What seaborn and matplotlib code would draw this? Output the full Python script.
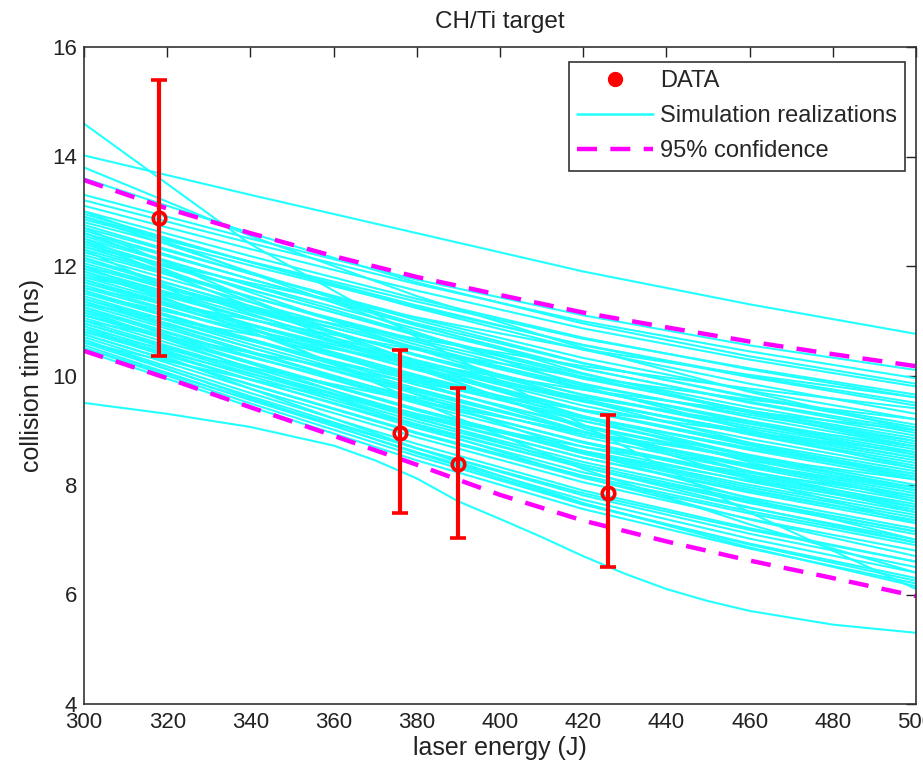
import numpy as np
import pandas as pd
import matplotlib
matplotlib.use("Agg")
import matplotlib.pyplot as plt
import seaborn as sns
from matplotlib.lines import Line2D

# ---------------- data ----------------
energy_grid = [300, 340, 380, 420, 460, 500]

realizations = [
    [14.02, 13.30, 12.60, 11.90, 11.30, 10.76],
    [14.60, 12.40, 10.70, 9.10, 7.50, 6.10],
    [13.80, 12.55, 11.45, 10.50, 9.70, 9.00],
    [13.60, 12.60, 11.70, 10.95, 10.35, 9.85],
    [13.30, 12.50, 11.75, 11.10, 10.55, 10.10],
    [13.20, 12.42, 11.67, 10.99, 10.44, 9.95],
    [13.10, 12.31, 11.55, 10.86, 10.29, 9.80],
    [13.00, 12.18, 11.40, 10.69, 10.11, 9.60],
    [12.90, 12.07, 11.28, 10.55, 9.97, 9.45],
    [12.95, 12.07, 11.23, 10.47, 9.85, 9.30],
    [12.80, 12.01, 11.25, 10.56, 9.99, 9.50],
    [12.70, 11.86, 11.05, 10.32, 9.72, 9.20],
    [12.60, 11.76, 10.95, 10.22, 9.62, 9.10],
    [12.65, 11.76, 10.91, 10.13, 9.50, 8.95],
    [12.50, 11.66, 10.85, 10.12, 9.52, 9.00],
    [12.45, 11.57, 10.73, 9.97, 9.35, 8.80],
    [12.40, 11.56, 10.75, 10.02, 9.42, 8.90],
    [12.30, 11.44, 10.61, 9.85, 9.24, 8.70],
    [12.25, 11.43, 10.65, 9.94, 9.36, 8.85],
    [12.20, 11.34, 10.51, 9.75, 9.14, 8.60],
    [12.10, 11.27, 10.48, 9.75, 9.17, 8.65],
    [12.05, 11.20, 10.38, 9.64, 9.03, 8.50],
    [12.00, 11.17, 10.38, 9.65, 9.07, 8.55],
    [11.95, 11.10, 10.28, 9.54, 8.93, 8.40],
    [11.90, 11.04, 10.21, 9.45, 8.84, 8.30],
    [11.85, 11.03, 10.25, 9.54, 8.96, 8.45],
    [11.80, 10.94, 10.11, 9.35, 8.74, 8.20],
    [11.75, 10.91, 10.10, 9.37, 8.77, 8.25],
    [11.70, 10.84, 10.01, 9.25, 8.64, 8.10],
    [11.65, 10.77, 9.93, 9.17, 8.55, 8.00],
    [11.60, 10.77, 9.98, 9.25, 8.67, 8.15],
    [11.55, 10.67, 9.83, 9.07, 8.45, 7.90],
    [11.50, 10.65, 9.83, 9.09, 8.48, 7.95],
    [11.45, 10.57, 9.73, 8.97, 8.35, 7.80],
    [11.40, 10.51, 9.66, 8.88, 8.25, 7.70],
    [11.35, 10.51, 9.70, 8.97, 8.37, 7.85],
    [11.30, 10.41, 9.56, 8.78, 8.15, 7.60],
    [11.25, 10.35, 9.49, 8.70, 8.06, 7.50],
    [11.20, 10.35, 9.53, 8.79, 8.18, 7.65],
    [11.15, 10.25, 9.39, 8.60, 7.96, 7.40],
    [11.10, 10.22, 9.38, 8.62, 8.00, 7.45],
    [11.05, 10.15, 9.29, 8.50, 7.86, 7.30],
    [11.00, 10.09, 9.21, 8.42, 7.77, 7.20],
    [10.95, 10.09, 9.26, 8.50, 7.89, 7.35],
    [10.90, 9.99, 9.11, 8.32, 7.67, 7.10],
    [10.85, 9.93, 9.04, 8.23, 7.58, 7.00],
    [10.80, 9.92, 9.08, 8.32, 7.70, 7.15],
    [10.75, 9.83, 8.94, 8.13, 7.48, 6.90],
    [10.70, 9.76, 8.87, 8.05, 7.38, 6.80],
    [10.65, 9.68, 8.75, 7.90, 7.21, 6.60],
    [10.60, 9.62, 8.67, 7.81, 7.11, 6.50],
    [10.55, 9.55, 8.60, 7.73, 7.02, 6.40],
    [10.50, 9.49, 8.53, 7.64, 6.93, 6.30],
    [10.45, 9.43, 8.45, 7.56, 6.84, 6.20],
    [12.70, 11.40, 10.16, 9.03, 8.11, 7.30],
    [11.30, 10.75, 10.22, 9.74, 9.34, 9.00],
    [12.00, 10.80, 9.65, 8.60, 7.75, 7.00],
    [11.00, 10.42, 9.87, 9.37, 8.96, 8.60],
    [12.30, 10.88, 9.53, 8.29, 7.28, 6.40],
    [10.60, 9.93, 9.28, 8.70, 8.22, 7.80],
    [13.00, 11.87, 10.79, 9.80, 9.00, 8.30],
    [11.80, 11.22, 10.67, 10.17, 9.76, 9.40],
    [12.50, 11.35, 10.24, 9.24, 8.42, 7.70],
    [10.90, 9.76, 8.67, 7.67, 6.86, 6.15],
    [12.90, 11.89, 10.93, 10.04, 9.33, 8.70],
    [11.60, 11.02, 10.47, 9.97, 9.56, 9.20],
    [12.15, 11.13, 10.15, 9.26, 8.54, 7.90],
    [11.50, 10.83, 10.18, 9.60, 9.12, 8.70],
    [12.60, 11.52, 10.48, 9.54, 8.77, 8.10],
    [11.20, 10.12, 9.08, 8.14, 7.37, 6.70],
    [10.80, 10.15, 9.53, 8.96, 8.50, 8.10],
    [12.35, 11.69, 11.06, 10.48, 10.01, 9.60],
    [12.75, 11.86, 11.01, 10.23, 9.60, 9.05],
    [12.55, 11.64, 10.76, 9.97, 9.32, 8.75],
    [12.35, 11.44, 10.56, 9.77, 9.12, 8.55],
    [12.15, 11.24, 10.36, 9.57, 8.92, 8.35],
    [11.95, 11.04, 10.16, 9.37, 8.72, 8.15],
    [11.75, 10.84, 9.96, 9.17, 8.52, 7.95],
    [11.55, 10.64, 9.76, 8.97, 8.32, 7.75],
    [11.35, 10.44, 9.56, 8.77, 8.12, 7.55],
    [11.15, 10.24, 9.36, 8.57, 7.92, 7.35],
    [10.95, 10.04, 9.16, 8.37, 7.72, 7.15],
    [10.75, 9.84, 8.96, 8.17, 7.52, 6.95],
    [12.00, 11.23, 10.50, 9.82, 9.28, 8.80],
    [11.70, 10.93, 10.20, 9.52, 8.98, 8.50],
    [11.40, 10.63, 9.90, 9.22, 8.68, 8.20],
    [11.10, 10.33, 9.60, 8.92, 8.38, 7.90],
    [10.80, 10.03, 9.30, 8.62, 8.08, 7.60],
    [12.45, 11.26, 10.12, 9.08, 8.24, 7.50],
    [11.90, 10.87, 9.88, 8.98, 8.24, 7.60],
    [11.25, 10.22, 9.23, 8.33, 7.59, 6.95],
    [12.85, 12.08, 11.35, 10.67, 10.13, 9.65],
    [10.50, 9.56, 8.67, 7.85, 7.18, 6.60],
    [10.65, 9.59, 8.58, 7.66, 6.91, 6.25],
]

low_energy = [300, 320, 340, 360, 370, 380, 390, 400, 410, 420, 430, 440, 450, 460, 480, 500]
low_values = [9.50, 9.30, 9.06, 8.72, 8.45, 8.12, 7.70, 7.38, 7.05, 6.70, 6.38, 6.10, 5.88, 5.70, 5.45, 5.30]

conf_energy = [300, 320, 340, 360, 380, 400, 420, 440, 460, 480, 500]
conf_upper = [13.57, 13.05, 12.60, 12.18, 11.80, 11.47, 11.15, 10.88, 10.62, 10.39, 10.17]
conf_lower = [10.45, 9.95, 9.42, 8.90, 8.37, 7.82, 7.35, 6.97, 6.62, 6.30, 5.97]

data_energy = [318, 376, 390, 426]
data_time = [12.88, 8.95, 8.38, 7.86]
data_low = [10.36, 7.49, 7.03, 6.50]
data_high = [15.40, 10.47, 9.77, 9.28]

# ---------------- build tables ----------------
rows = []
for i, vals in enumerate(realizations):
    for e, t in zip(energy_grid, vals):
        rows.append({"run": i, "energy": e, "time": t})
for e, t in zip(low_energy, low_values):
    rows.append({"run": len(realizations), "energy": e, "time": t})
sim = pd.DataFrame(rows)

conf = pd.DataFrame({"energy": conf_energy + conf_energy,
                     "time": conf_upper + conf_lower,
                     "bound": ["upper"] * len(conf_energy) + ["lower"] * len(conf_energy)})

# ---------------- plot ----------------
sns.set_theme(style="white")
plt.rcParams["font.family"] = ["Liberation Sans", "DejaVu Sans"]

fig = plt.figure(figsize=(9.23, 7.71), dpi=100)
ax = fig.add_axes([84 / 923, 1 - 704 / 771, (916 - 84) / 923, (704 - 47) / 771])

cyan = "#22FFFF"
sns.lineplot(data=sim, x="energy", y="time", units="run", estimator=None,
             color=cyan, linewidth=1.5, legend=False, sort=False, ax=ax)

for b in ["upper", "lower"]:
    sub = conf[conf["bound"] == b]
    sns.lineplot(data=sub, x="energy", y="time", color="#FF00FF", linewidth=3.2,
                 linestyle=(0, (4.5, 3.0)), legend=False, ax=ax)

yerr = [np.array(data_time) - np.array(data_low), np.array(data_high) - np.array(data_time)]
ax.errorbar(data_energy, data_time, yerr=yerr, fmt="o", color="#FF0000",
            ecolor="#FF0000", elinewidth=3.0, capsize=6, capthick=3.0,
            markersize=9, markerfacecolor="none", markeredgewidth=2.6, zorder=5)

ax.set_xlim(300, 500)
ax.set_ylim(4, 16)
ax.set_xticks(range(300, 501, 20))
ax.set_yticks(range(4, 17, 2))
ax.tick_params(direction="in", length=7, width=1, top=True, right=True,
               labelsize=16, colors="#222222")
ax.tick_params(axis="x", pad=6)
ax.tick_params(axis="y", pad=5)
for s in ax.spines.values():
    s.set_color("#333333")
    s.set_linewidth(1.2)

ax.set_xlabel("laser energy (J)", fontsize=18, color="#222222", labelpad=2)
ax.set_ylabel("collision time (ns)", fontsize=18, color="#222222", labelpad=6)
ax.set_title("CH/Ti target", fontsize=17.5, color="#222222", pad=14)

handles = [
    Line2D([], [], color="#FF0000", marker="o", linestyle="none", markersize=10),
    Line2D([], [], color=cyan, linewidth=1.8),
    Line2D([], [], color="#FF00FF", linewidth=3.2, linestyle=(0, (4.5, 3.0))),
]
labels = ["DATA", "Simulation realizations", "95% confidence"]
leg = ax.legend(handles, labels, loc="upper right", bbox_to_anchor=(0.987, 0.977),
                fontsize=17, frameon=True, fancybox=False, framealpha=1,
                edgecolor="#333333", handlelength=3.2, handletextpad=0.3,
                borderpad=0.35, labelspacing=0.55, borderaxespad=0)
leg.get_frame().set_linewidth(1.2)

fig.savefig("out.png", dpi=100)
